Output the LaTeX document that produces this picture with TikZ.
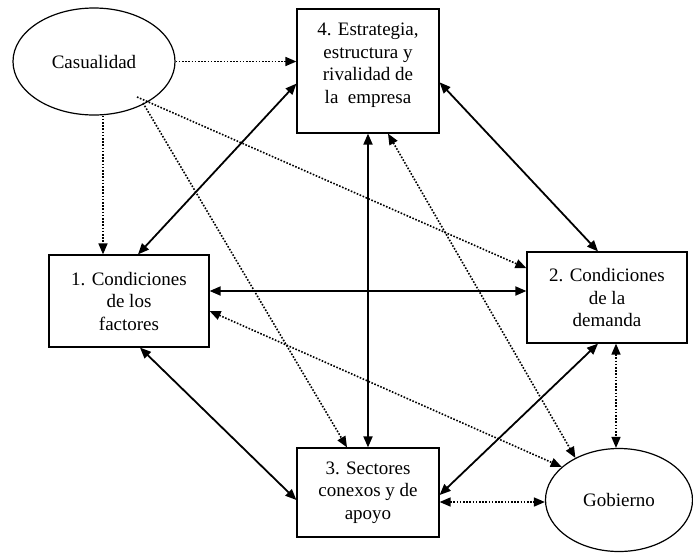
\documentclass[tikz,border=0pt]{standalone}
\usepackage{fontspec}
\setmainfont{Liberation Serif}
\usetikzlibrary{arrows.meta,shapes.geometric}
\tikzset{
  caja/.style={draw,line width=1.2pt,align=center,inner sep=0pt},
  nube/.style={draw,ellipse,line width=1.2pt,inner sep=0pt},
  fuerte/.style={<->,line width=1.8pt},
  debil/.style={->,line width=1.6pt,dash pattern=on 1.6pt off 1.6pt},
  doble/.style={<->,line width=1.6pt,dash pattern=on 1.6pt off 1.6pt}
}

\begin{document}
\begin{tikzpicture}[>={Triangle[length=11pt,width=9pt]},x=1pt,y=-1pt,font=\fontsize{19}{22.5}\selectfont]
\useasboundingbox (0,0) rectangle (693,552);
\node[nube,minimum width=162pt,minimum height=107pt] (casualidad) at (94,61.5) {Casualidad};
\node[caja,minimum width=142pt,minimum height=124pt,text depth=16pt] (estrategia) at (368,71) {4. Estrategia,\\estructura y\\rivalidad de\\la\ \ empresa};
\node[caja,minimum width=160pt,minimum height=92pt] (factores) at (129,301) {1. Condiciones\\de los\\factores};
\node[caja,minimum width=160pt,minimum height=91pt] (demanda) at (607,297.5) {2. Condiciones\\de la\\demanda};
\node[caja,minimum width=142pt,minimum height=89pt] (sectores) at (368,492.5) {3. Sectores\\conexos y de\\apoyo};
\node[nube,minimum width=147pt,minimum height=103pt] (gobierno) at (619,500) {Gobierno};
\coordinate (casA) at (143,103);
\coordinate (casB) at (137,97);
\draw[debil] (casualidad.east) -- (casualidad.east -| estrategia.west);
\draw[debil] ([xshift=9pt]casualidad.south) -- ([xshift=9pt]casualidad.south |- factores.north);
\draw[debil] (casA) -- ([xshift=-21pt]sectores.north);
\draw[debil] (casB) -- (demanda.160);
\draw[fuerte] (estrategia.190) -- ([xshift=9pt]factores.north);
\draw[fuerte] (estrategia.351) -- ([xshift=-9pt]demanda.north);
\draw[fuerte] (estrategia.south) -- (sectores.north);
\draw[fuerte] ([yshift=10pt]factores.east) -- ([yshift=10pt]factores.east -| demanda.west);
\draw[fuerte] ([xshift=11pt]factores.south) -- ([yshift=-7.5pt]sectores.west);
\draw[fuerte] ([xshift=-9pt]demanda.south) -- ([yshift=-2.5pt]sectores.east);
\draw[doble] ([xshift=20pt]estrategia.south) -- (gobierno.136);
\draw[doble] ([yshift=-10pt]factores.east) -- (gobierno.150);
\draw[doble] ([yshift=-9.5pt]sectores.east) -- ([yshift=-9.5pt]sectores.east -| gobierno.west);
\draw[doble] ([xshift=9pt]demanda.south) -- ([xshift=9pt]demanda.south |- gobierno.north);
\end{tikzpicture}
\end{document}
